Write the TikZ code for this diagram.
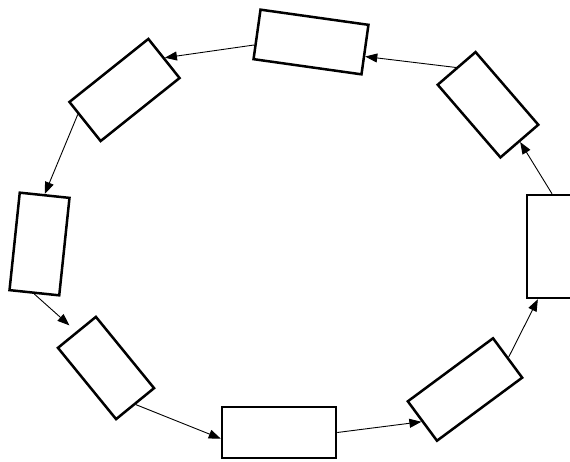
\documentclass[tikz,border=0pt]{standalone}
\usetikzlibrary{arrows.meta}

\begin{document}
\begin{tikzpicture}[x = 1pt, y = -1pt]
\tikzstyle{BoxStyle}=[shape = rectangle,
                      minimum height = 50pt,
                      inner sep = 0pt,
                      line width = 2.5pt,
                      draw]
\tikzstyle{EdgeStyle}=[-{Triangle[length = 12pt, width = 9pt]},
                       line width = 0.9pt]
\useasboundingbox (0, 0) rectangle (570, 462);
\node[BoxStyle, minimum width = 109pt, rotate = -8] (v0) at (311, 42) {};
\node[BoxStyle, minimum width = 101pt, rotate = 38.6] (v1) at (124.5, 90) {};
\node[BoxStyle, minimum width = 50pt, minimum height = 98pt, rotate = -6] (v2) at (39.5, 244) {};
\node[BoxStyle, minimum width = 92pt, minimum height = 49pt, rotate = -50.8] (v3) at (106, 368) {};
\node[BoxStyle, minimum width = 114pt, minimum height = 51pt] (v4) at (279, 432.5) {};
\node[BoxStyle, minimum width = 106pt, minimum height = 49pt, rotate = 36.5] (v5) at (465, 389.5) {};
\node[BoxStyle, minimum width = 50pt, minimum height = 103pt] (v6) at (552, 246.5) {};
\node[BoxStyle, minimum width = 96pt, rotate = -49.2] (v7) at (488, 104.75) {};
\draw[EdgeStyle] (v4.east) -- (v5.west);
\draw[EdgeStyle] (v5.east) -- (v6.-105);
\draw[EdgeStyle] (v6.north) -- (v7.east);
\draw[EdgeStyle] (v7.west) -- (v0.-7);
\draw[EdgeStyle] (v0.-169) -- (v1.east);
\draw[EdgeStyle] (v1.169) -- (v2.north);
\draw[EdgeStyle, shorten > = 9pt] (v2.south) -- (v3.west);
\draw[EdgeStyle] (v3.east) -- (v4.-174);
\end{tikzpicture}
\end{document}
